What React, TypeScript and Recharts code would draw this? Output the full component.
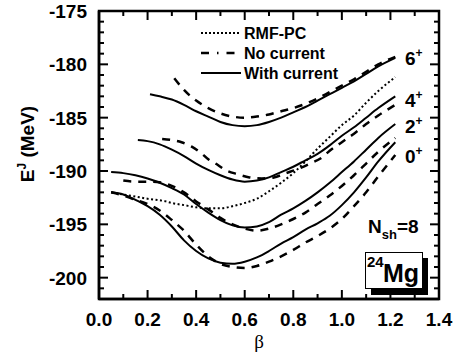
import { LineChart, Line, XAxis, YAxis } from "recharts";

// β grids and energies (MeV)
const betaS0 = [0.05, 0.1, 0.15, 0.2, 0.25, 0.3, 0.35, 0.4, 0.45, 0.5, 0.55, 0.6, 0.65, 0.7, 0.75, 0.8, 0.85, 0.9, 0.95, 1.0, 1.05, 1.1, 1.15, 1.22];
const withCurrent0 = [-192.0, -192.2, -192.7, -193.3, -194.1, -195.2, -196.5, -197.5, -198.2, -198.6, -198.7, -198.5, -198.1, -197.5, -196.8, -196.2, -195.5, -194.9, -194.2, -193.2, -192.0, -190.6, -189.1, -187.3];

const betaD0 = [0.05, 0.1, 0.15, 0.2, 0.25, 0.3, 0.35, 0.4, 0.45, 0.5, 0.55, 0.6, 0.65, 0.7, 0.75, 0.8, 0.85, 0.9, 0.95, 1.0, 1.05, 1.1, 1.15, 1.22];
const noCurrent0 = [-192.0, -192.3, -192.7, -193.1, -193.7, -194.6, -195.6, -196.9, -198.0, -198.7, -199.0, -199.1, -198.9, -198.5, -198.0, -197.4, -196.7, -196.1, -195.4, -194.5, -193.3, -192.0, -190.5, -188.5];

const betaS2 = [0.05, 0.1, 0.15, 0.2, 0.25, 0.3, 0.35, 0.4, 0.45, 0.5, 0.55, 0.6, 0.65, 0.7, 0.75, 0.8, 0.85, 0.9, 0.95, 1.0, 1.05, 1.1, 1.15, 1.22];
const withCurrent2 = [-190.1, -190.2, -190.4, -190.7, -191.1, -191.6, -192.2, -193.1, -193.9, -194.6, -195.1, -195.3, -195.2, -194.8, -194.1, -193.5, -192.8, -192.0, -191.1, -190.1, -189.1, -188.0, -186.9, -185.6];

const betaD2 = [0.1, 0.15, 0.2, 0.26, 0.3, 0.35, 0.4, 0.45, 0.5, 0.55, 0.6, 0.65, 0.7, 0.75, 0.8, 0.85, 0.9, 0.95, 1.0, 1.05, 1.1, 1.15, 1.22];
const noCurrent2 = [-190.9, -191.0, -191.0, -191.1, -191.4, -192.0, -192.85, -193.6, -194.4, -195.0, -195.4, -195.6, -195.4, -195.0, -194.5, -193.9, -193.1, -192.3, -191.4, -190.4, -189.3, -188.2, -186.9];

const betaS4 = [0.16, 0.2, 0.25, 0.3, 0.35, 0.4, 0.45, 0.5, 0.55, 0.6, 0.65, 0.7, 0.75, 0.8, 0.85, 0.9, 0.95, 1.0, 1.05, 1.1, 1.15, 1.22];
const withCurrent4 = [-187.1, -187.2, -187.5, -188.0, -188.6, -189.3, -189.9, -190.4, -190.8, -191.0, -190.9, -190.6, -190.1, -189.6, -189.0, -188.4, -187.6, -186.7, -185.9, -185.0, -184.1, -183.0];

const betaD4 = [0.26, 0.3, 0.34, 0.38, 0.42, 0.45, 0.48, 0.52, 0.57, 0.62, 0.67, 0.72, 0.77, 0.82, 0.87, 0.92, 0.95, 1.0, 1.05, 1.1, 1.15, 1.22];
const noCurrent4 = [-187.0, -187.1, -187.3, -187.7, -188.3, -188.9, -189.3, -189.9, -190.3, -190.6, -190.7, -190.6, -190.2, -189.8, -189.3, -188.7, -188.1, -187.3, -186.5, -185.6, -184.8, -183.8];

const betaS6 = [0.21, 0.25, 0.3, 0.35, 0.4, 0.45, 0.5, 0.55, 0.6, 0.65, 0.7, 0.75, 0.8, 0.85, 0.9, 0.95, 1.0, 1.05, 1.1, 1.15, 1.22];
const withCurrent6 = [-182.8, -183.0, -183.3, -183.8, -184.4, -184.9, -185.4, -185.7, -185.8, -185.7, -185.4, -185.0, -184.5, -184.0, -183.4, -182.8, -182.2, -181.6, -180.9, -180.2, -179.4];

const betaD6 = [0.31, 0.35, 0.4, 0.45, 0.5, 0.55, 0.6, 0.65, 0.7, 0.75, 0.8, 0.85, 0.9, 0.95, 1.0, 1.05, 1.1, 1.15, 1.22];
const noCurrent6 = [-181.3, -182.4, -183.4, -184.1, -184.6, -184.9, -185.0, -184.9, -184.7, -184.4, -184.1, -183.7, -183.2, -182.6, -182.0, -181.4, -180.7, -180.0, -179.3];

const betaRmf = [0.05, 0.1, 0.15, 0.2, 0.275, 0.3, 0.35, 0.4, 0.45, 0.5, 0.55, 0.6, 0.65, 0.7, 0.75, 0.8, 0.85, 0.9, 0.95, 1.0, 1.05, 1.1, 1.15, 1.22];
const rmfPc = [-192.0, -192.2, -192.4, -192.6, -192.85, -193.0, -193.2, -193.4, -193.5, -193.5, -193.3, -193.0, -192.6, -191.9, -191.1, -190.2, -189.1, -187.9, -186.8, -185.7, -184.8, -183.6, -182.5, -181.2];

const xTicks = [0, 0.1, 0.2, 0.3, 0.4, 0.5, 0.6, 0.7, 0.8, 0.9, 1.0, 1.1, 1.2, 1.3, 1.4];
const xLabels = [0, 0.2, 0.4, 0.6, 0.8, 1.0, 1.2, 1.4];
const yTicks = [-202, -201, -200, -199, -198, -197, -196, -195, -194, -193, -192, -191, -190, -189, -188, -187, -186, -185, -184, -183, -182, -181, -180, -179, -178, -177, -176, -175];
const yLabels = [-200, -195, -190, -185, -180, -175];

const X_MIN = 0;
const X_MAX = 1.4;
const Y_MIN = -202;
const Y_MAX = -175;

// chart box (same numbers feed the chart margins and the frame overlay)
const W = 455;
const H = 359;
const M = { top: 11, right: 16, bottom: 0, left: 0 };
const Y_AXIS_W = 99;
const X_AXIS_H = 60;
const PLOT = { left: M.left + Y_AXIS_W, right: W - M.right, top: M.top, bottom: H - M.bottom - X_AXIS_H };
const px = (v: number) => PLOT.left + ((v - X_MIN) / (X_MAX - X_MIN)) * (PLOT.right - PLOT.left);
const py = (v: number) => PLOT.bottom - ((v - Y_MIN) / (Y_MAX - Y_MIN)) * (PLOT.bottom - PLOT.top);

const FONT = "'Liberation Sans', Arial, Helvetica, sans-serif";

const toPoints = (b: number[], e: number[]) => b.map((x, i) => ({ beta: x, e: e[i] }));

const isXLabel = (v: number) => xLabels.some((l) => Math.abs(l - v) < 1e-6);
const isYLabel = (v: number) => yLabels.includes(v);

const BottomTick = (props: any) => {
  const { x, y, payload } = props;
  if (!isXLabel(payload.value)) return <g />;
  return (
    <text x={x} y={y + 27} textAnchor="middle" fontFamily={FONT} fontWeight="bold" fontSize={19} fill="#000">
      {payload.value.toFixed(1)}
    </text>
  );
};

const LeftTick = (props: any) => {
  const { x, y, payload } = props;
  if (!isYLabel(payload.value)) return <g />;
  return (
    <text x={x - 12} y={y + 7} textAnchor="end" fontFamily={FONT} fontWeight="bold" fontSize={19} fill="#000">
      {payload.value}
    </text>
  );
};

// boxed frame with inward ticks on all four sides
const Frame = () => (
  <g stroke="#000" fill="none">
    <rect x={PLOT.left} y={PLOT.top} width={PLOT.right - PLOT.left} height={PLOT.bottom - PLOT.top} strokeWidth={2.5} />
    {xTicks.map((t) => {
      const len = isXLabel(t) ? 9 : 5;
      return (
        <g key={"x" + t} strokeWidth={2}>
          <line x1={px(t)} x2={px(t)} y1={PLOT.bottom} y2={PLOT.bottom - len} />
          <line x1={px(t)} x2={px(t)} y1={PLOT.top} y2={PLOT.top + len} />
        </g>
      );
    })}
    {yTicks.map((t) => {
      const len = isYLabel(t) ? 9 : 5;
      return (
        <g key={"y" + t} strokeWidth={2}>
          <line x1={PLOT.left} x2={PLOT.left + len} y1={py(t)} y2={py(t)} />
          <line x1={PLOT.right} x2={PLOT.right - len} y1={py(t)} y2={py(t)} />
        </g>
      );
    })}
  </g>
);

export default function App() {
  const solid = { stroke: "#000", strokeWidth: 2, dot: false, isAnimationActive: false, type: "monotone" as const };
  const dashed = { ...solid, strokeWidth: 2.5, strokeDasharray: "8 7" };

  return (
    <div style={{ position: "relative", width: W, height: H, background: "#fff" }}>
      <style>{`body{margin:0}`}</style>
      <LineChart width={W} height={H} margin={M}>
        <XAxis
          dataKey="beta"
          type="number"
          domain={[X_MIN, X_MAX]}
          ticks={xTicks}
          interval={0}
          allowDataOverflow
          height={X_AXIS_H}
          tickSize={0}
          tickMargin={0}
          tickLine={false}
          axisLine={{ stroke: "#000", strokeWidth: 2.5 }}
          tick={<BottomTick />}
        />
        <YAxis
          type="number"
          domain={[Y_MIN, Y_MAX]}
          ticks={yTicks}
          interval={0}
          allowDataOverflow
          width={Y_AXIS_W}
          tickSize={0}
          tickMargin={0}
          tickLine={false}
          axisLine={{ stroke: "#000", strokeWidth: 2.5 }}
          tick={<LeftTick />}
        />

        <Line data={toPoints(betaRmf, rmfPc)} dataKey="e" {...solid} strokeDasharray="2 2.5" />
        <Line data={toPoints(betaD0, noCurrent0)} dataKey="e" {...dashed} />
        <Line data={toPoints(betaD2, noCurrent2)} dataKey="e" {...dashed} />
        <Line data={toPoints(betaD4, noCurrent4)} dataKey="e" {...dashed} />
        <Line data={toPoints(betaD6, noCurrent6)} dataKey="e" {...dashed} />
        <Line data={toPoints(betaS0, withCurrent0)} dataKey="e" {...solid} />
        <Line data={toPoints(betaS2, withCurrent2)} dataKey="e" {...solid} />
        <Line data={toPoints(betaS4, withCurrent4)} dataKey="e" {...solid} />
        <Line data={toPoints(betaS6, withCurrent6)} dataKey="e" {...solid} />
      </LineChart>

      <svg width={W} height={H} style={{ position: "absolute", left: 0, top: 0, pointerEvents: "none" }}>
        <Frame />
        <g fontFamily={FONT} fontWeight="bold" fill="#000">
          {/* legend */}
          <line x1={201} x2={241} y1={33} y2={33} stroke="#000" strokeWidth={2} strokeDasharray="2 2" />
          <text x={244} y={39} fontSize={16}>RMF-PC</text>
          <line x1={201} x2={241} y1={53} y2={53} stroke="#000" strokeWidth={2.5} strokeDasharray="8 8 1.5 8" />
          <text x={244} y={59} fontSize={16}>No current</text>
          <line x1={201} x2={241} y1={73} y2={73} stroke="#000" strokeWidth={2} />
          <text x={244} y={79} fontSize={16}>With current</text>

          {/* spin labels */}
          <text x={405} y={65} fontSize={19}>6<tspan fontSize={12} dy={-8}>+</tspan></text>
          <text x={405} y={107} fontSize={19}>4<tspan fontSize={12} dy={-8}>+</tspan></text>
          <text x={405} y={133} fontSize={19}>2<tspan fontSize={12} dy={-8}>+</tspan></text>
          <text x={405} y={163} fontSize={19}>0<tspan fontSize={12} dy={-8}>+</tspan></text>

          <text x={368} y={233} fontSize={19}>N<tspan fontSize={13} dy={6}>sh</tspan><tspan dy={-6}>=8</tspan></text>

          {/* nucleus box */}
          <rect x={371} y={258} width={57} height={37} fill="#000" />
          <rect x={365.5} y={252.5} width={57} height={36} fill="#fff" stroke="#000" strokeWidth={1} />
          <text x={367} y={267} fontSize={15}>24</text>
          <text x={383} y={282} fontSize={25}>Mg</text>

          {/* axis title */}
          <text transform="translate(34,144) rotate(-90)" textAnchor="middle" fontSize={19}>
            E<tspan fontSize={12} dy={-8}>J</tspan><tspan dy={8}> (MeV)</tspan>
          </text>
        </g>
        <text x={259} y={348} textAnchor="middle" fontFamily="'Liberation Serif', 'DejaVu Serif', serif" fontSize={19} fill="#000">β</text>
      </svg>
    </div>
  );
}
